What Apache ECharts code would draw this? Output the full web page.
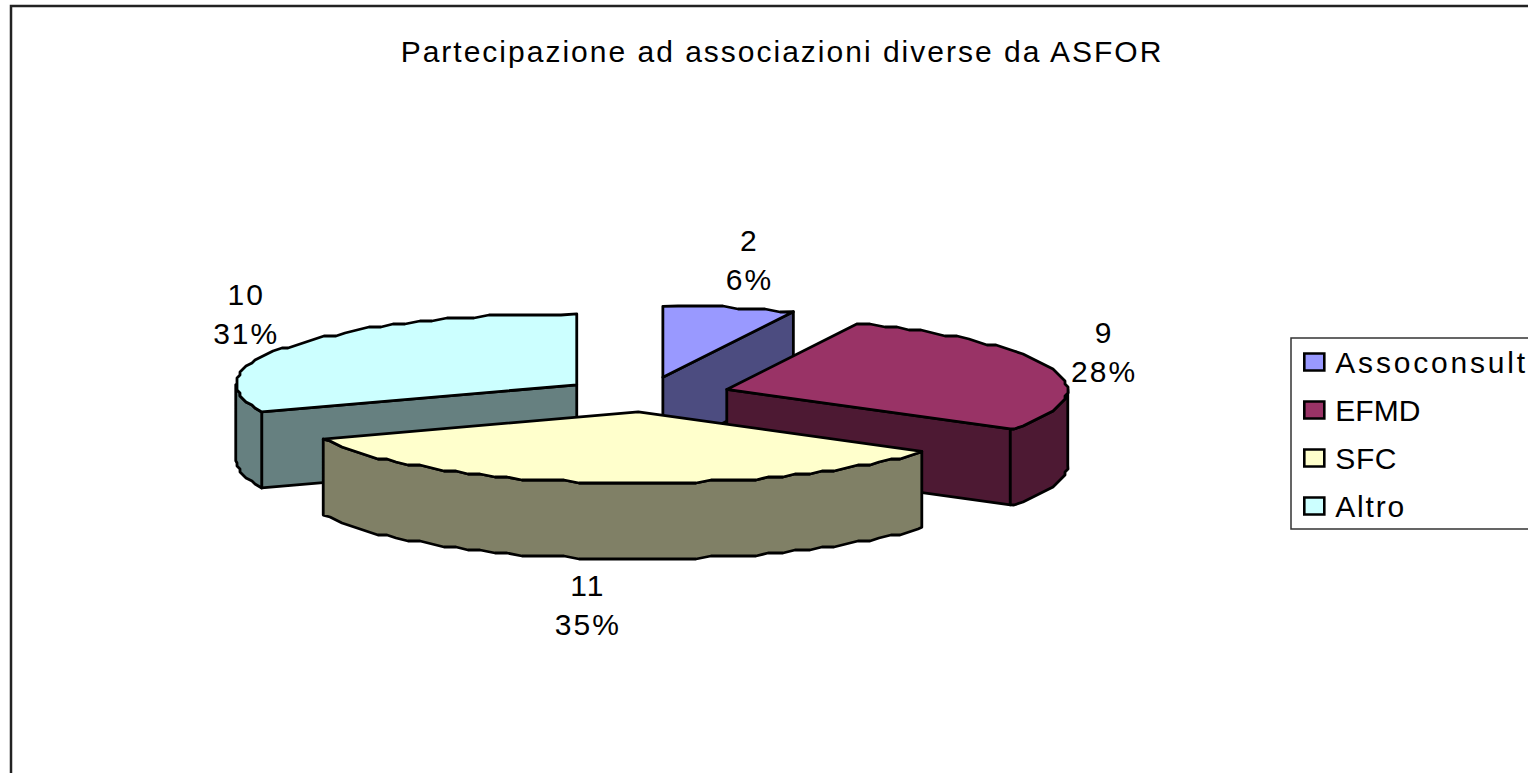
<!DOCTYPE html>
<html>
<head>
<meta charset="utf-8">
<style>
html,body{margin:0;padding:0;background:#fff;overflow:hidden}
#chart{width:1528px;height:773px}
#chart text{letter-spacing:2px}
</style>
<script src="https://cdn.jsdelivr.net/npm/echarts@6/dist/echarts.min.js"></script>
</head>
<body>
<div id="chart"></div>
<script>
const titleText = 'Partecipazione ad associazioni diverse da ASFOR';
const categories = ['Assoconsult', 'EFMD', 'SFC', 'Altro'];
const values = [2, 9, 11, 10];
const percentLabels = ['6%', '28%', '35%', '31%'];
const topColors = ['#9999FF', '#993366', '#FFFFCC', '#CCFFFF'];
const wallColors = ['#4C4C80', '#4D1933', '#808066', '#668080'];
const paintOrder = [0, 3, 1, 2];
// layout of the projected pie
const CX = 646.5, CY = 394.5, RX = 341, RY = 71, DEPTH = 76, EXPLODE = 0.246;
const FONT = '30px "Liberation Sans", Arial, sans-serif';
const labelOffsets = [[20, -48], [51, -17], [-17, 46], [-47, -31]];
const legendSpacing = { Assoconsult: '2.8px', EFMD: '0px', SFC: '0.6px', Altro: '1.8px' };

const total = values.reduce((a, b) => a + b, 0);
const rad = d => d * Math.PI / 180;
const starts = [];
values.reduce((acc, v, i) => { starts[i] = acc; return acc + v / total * 360; }, 0);

function rim(apex, deg) {
  return [apex[0] + RX * Math.sin(rad(deg)), apex[1] - RY * Math.cos(rad(deg))];
}
function arc(apex, a0, a1) {
  const pts = [rim(apex, a0)];
  const STEP = 2.5, G = 3;
  for (let a = Math.ceil(a0 / STEP + 0.01) * STEP; a < a1 - 0.5; a += STEP) {
    const p = rim(apex, a);
    pts.push([Math.round(p[0] / G) * G, Math.round(p[1] / G) * G]);
  }
  pts.push(rim(apex, a1));
  return pts;
}
const drop = p => [p[0], p[1] + DEPTH];
const edge = { stroke: '#000', lineWidth: 2.8, lineJoin: 'round' };

function poly(points, fill) {
  return { type: 'polygon', shape: { points }, style: Object.assign({ fill }, edge), silent: true };
}
function quad(a, b, fill) {
  return poly([a, b, drop(b), drop(a)], fill);
}

function renderSlice(i) {
  const a0 = starts[i], a1 = a0 + values[i] / total * 360, mid = (a0 + a1) / 2;
  const apex = [CX + EXPLODE * RX * Math.sin(rad(mid)), CY - EXPLODE * RY * Math.cos(rad(mid))];
  const children = [];
  const sinA0 = Math.sin(rad(a0)), sinA1 = Math.sin(rad(a1));
  if (sinA0 < -1e-6) children.push(quad(apex, rim(apex, a0), wallColors[i]));
  if (sinA1 > 1e-6) children.push(quad(apex, rim(apex, a1), wallColors[i]));
  const w0 = Math.max(a0, 90), w1 = Math.min(a1, 270);
  if (w1 > w0) {
    const top = arc(apex, w0, w1);
    children.push(poly(top.concat(top.map(drop).reverse()), wallColors[i]));
  }
  children.push(poly([apex].concat(arc(apex, a0, a1)), topColors[i]));
  const outer = rim(apex, mid);
  const base = Math.cos(rad(mid)) < 0 ? DEPTH : 0;
  children.push({
    type: 'text', silent: true, z2: 10,
    style: {
      x: outer[0] + labelOffsets[i][0], y: outer[1] + base + labelOffsets[i][1],
      text: values[i] + '\n' + percentLabels[i],
      font: FONT, lineHeight: 39, fill: '#000', align: 'center', verticalAlign: 'middle'
    }
  });
  return { type: 'group', children };
}

const chart = echarts.init(document.getElementById('chart'), null, { renderer: 'svg' });
chart.on('finished', () => {
  document.querySelectorAll('#chart text').forEach(t => {
    const s = legendSpacing[t.textContent.trim()];
    if (s) t.style.letterSpacing = s;
  });
});
chart.setOption({
  animation: false,
  backgroundColor: '#fff',
  title: {
    text: titleText, left: 777, top: 31, textAlign: 'center',
    textStyle: { fontFamily: '"Liberation Sans", Arial, sans-serif', fontSize: 30, fontWeight: 'normal', color: '#000' }
  },
  graphic: [
    { type: 'rect', z: -10, silent: true, shape: { x: 11, y: 6, width: 1700, height: 1000 }, style: { fill: '#fff', stroke: '#222', lineWidth: 2.5 } },
    { type: 'rect', z: -9, silent: true, shape: { x: 1291, y: 338, width: 400, height: 191 }, style: { fill: '#fff', stroke: '#333', lineWidth: 1.5 } }
  ],
  legend: {
    orient: 'vertical', left: 1303, top: 347, padding: 0, itemGap: 18, itemWidth: 20, itemHeight: 17,
    selectedMode: false, icon: 'rect',
    textStyle: { fontFamily: '"Liberation Sans", Arial, sans-serif', fontSize: 30, color: '#000', padding: [0, 0, 0, 6] },
    data: categories.map((name, i) => ({ name, icon: 'rect', itemStyle: { color: topColors[i], borderColor: '#000', borderWidth: 2.6 } }))
  },
  series: paintOrder.map(i => ({
    type: 'custom', name: categories[i], coordinateSystem: 'none', silent: true,
    itemStyle: { color: topColors[i] },
    data: [values[i]],
    renderItem: () => renderSlice(i)
  }))
});
</script>
</body>
</html>
